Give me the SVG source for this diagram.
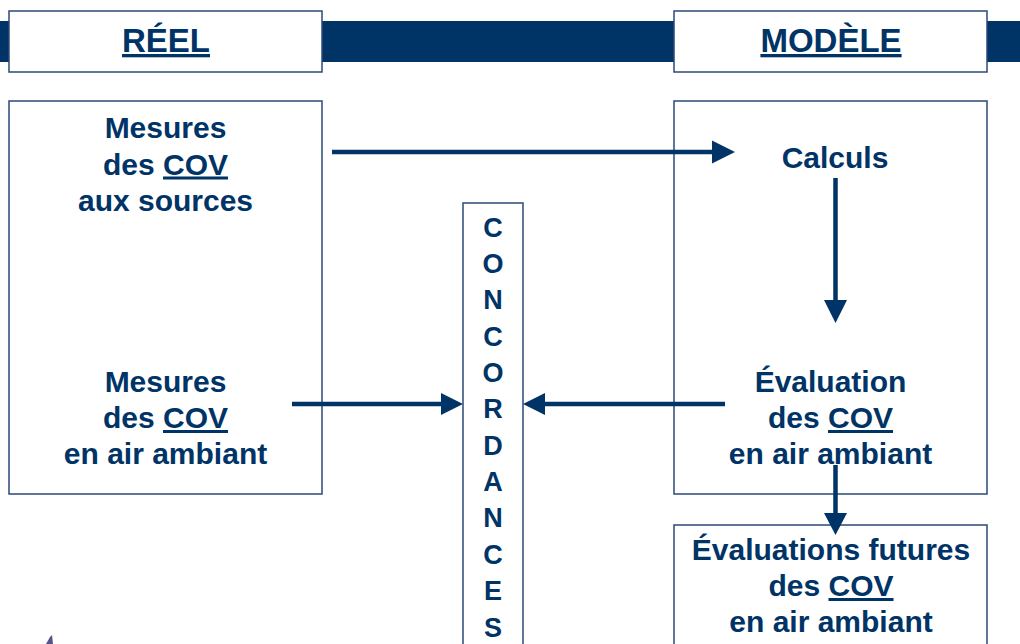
<svg xmlns="http://www.w3.org/2000/svg" width="1020" height="644" viewBox="0 0 1020 644">
<style>
.box{fill:#ffffff;stroke:#2b4a78;stroke-width:1.5}
.t{font-family:"Liberation Sans",Arial,sans-serif;font-weight:bold;fill:#003366;text-anchor:middle}
.h{font-size:33px}
.b{font-size:30px}
.v{font-size:27px}
.u{text-decoration:underline}
.ln{stroke:#003366;stroke-width:4.5;fill:none}
.ah{fill:#003366}
</style>
<rect id="band" x="0" y="21" width="1020" height="41" fill="#003366"/>
<g id="hdr-reel">
<rect class="box" x="9" y="11" width="313" height="61"/>
<text class="t h u" x="166" y="52">RÉEL</text>
</g>
<g id="hdr-modele">
<rect class="box" x="674" y="11" width="313" height="61"/>
<text class="t h u" x="831" y="52">MODÈLE</text>
</g>
<g id="reel-box">
<rect class="box" x="9" y="101" width="313" height="393"/>
<g id="mesures-sources">
<text class="t b" x="165.5" y="138">Mesures</text>
<text class="t b" x="165.5" y="174.5">des <tspan class="u">COV</tspan></text>
<text class="t b" x="165.5" y="210.5">aux sources</text>
</g>
<g id="mesures-ambiant">
<text class="t b" x="165.5" y="392">Mesures</text>
<text class="t b" x="165.5" y="428">des <tspan class="u">COV</tspan></text>
<text class="t b" x="165.5" y="464">en air ambiant</text>
</g>
</g>
<g id="modele-box">
<rect class="box" x="674" y="101" width="313" height="393"/>
<g id="calculs">
<text class="t b" x="835" y="168">Calculs</text>
</g>
<g id="evaluation">
<text class="t b" x="830.5" y="392">Évaluation</text>
<text class="t b" x="830.5" y="428">des <tspan class="u">COV</tspan></text>
<text class="t b" x="830.5" y="464">en air ambiant</text>
</g>
</g>
<g id="futures">
<rect class="box" x="674" y="525" width="313" height="130"/>
<text class="t b" x="831" y="560">Évaluations futures</text>
<text class="t b" x="831" y="596">des <tspan class="u">COV</tspan></text>
<text class="t b" x="831" y="632">en air ambiant</text>
</g>
<g id="concordances">
<rect class="box" x="463" y="203" width="60" height="460"/>
<text class="t v" x="493" y="236.5">C</text>
<text class="t v" x="493" y="272.9">O</text>
<text class="t v" x="493" y="309.2">N</text>
<text class="t v" x="493" y="345.6">C</text>
<text class="t v" x="493" y="381.9">O</text>
<text class="t v" x="493" y="418.3">R</text>
<text class="t v" x="493" y="454.7">D</text>
<text class="t v" x="493" y="491">A</text>
<text class="t v" x="493" y="527.4">N</text>
<text class="t v" x="493" y="563.7">C</text>
<text class="t v" x="493" y="600.1">E</text>
<text class="t v" x="493" y="636.5">S</text>
</g>
<g id="connectors">
<line class="ln" x1="332" y1="152" x2="714" y2="152"/>
<polygon class="ah" points="712,140.5 735,152 712,163.5"/>
<line class="ln" x1="835.5" y1="178" x2="835.5" y2="302"/>
<polygon class="ah" points="824,300 847,300 835.5,323"/>
<line class="ln" x1="292" y1="404" x2="443" y2="404"/>
<polygon class="ah" points="441,393 463,404 441,415"/>
<line class="ln" x1="725" y1="404" x2="543" y2="404"/>
<polygon class="ah" points="545,393 523,404 545,415"/>
<line class="ln" x1="835.5" y1="465" x2="835.5" y2="515"/>
<polygon class="ah" points="824,513 847,513 835.5,535"/>
</g>
<polygon id="logo-fragment" points="46,644 50,637 52,635 53,644" fill="#2a2a6a" opacity="0.8"/>
</svg>
